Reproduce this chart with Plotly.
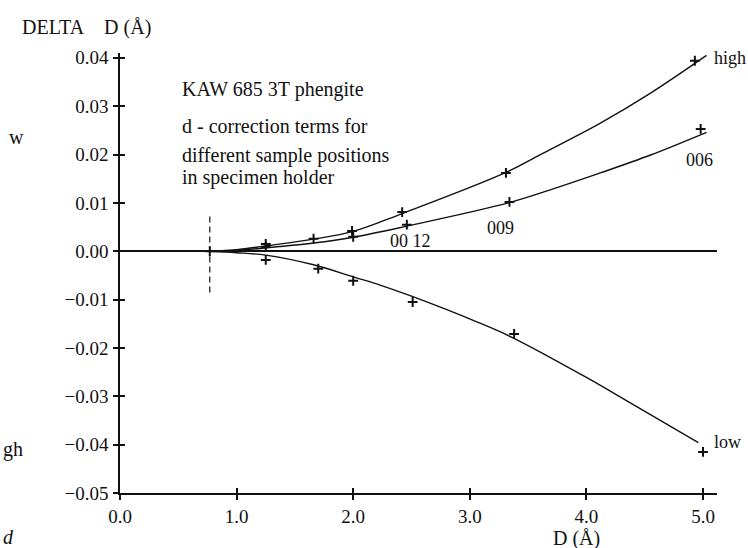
import plotly.graph_objects as go

# ---- data ----
# fitted curves
high_curve_x = [0.77, 1.0, 1.25, 1.66, 2.0, 2.42, 3.30, 3.63, 4.12, 4.55, 5.03]
high_curve_y = [0.0, 0.0003, 0.0011, 0.0025, 0.0041, 0.0078, 0.0162, 0.0203, 0.0265, 0.0327, 0.0405]

mid_curve_x = [0.77, 1.0, 1.25, 1.66, 2.0, 2.46, 3.33, 3.69, 4.12, 4.55, 5.03]
mid_curve_y = [0.0, 0.0002, 0.0007, 0.0017, 0.0029, 0.0052, 0.0100, 0.0127, 0.0162, 0.0199, 0.0246]

low_curve_x = [0.77, 1.0, 1.25, 1.66, 2.0, 2.23, 2.5, 3.06, 3.37, 4.0, 4.23, 4.96]
low_curve_y = [0.0, -0.0003, -0.0008, -0.0028, -0.0053, -0.0070, -0.0093, -0.0146, -0.0179, -0.0261, -0.0293, -0.0396]

# measured points (+)
high_pts_x = [1.25, 1.66, 1.99, 2.42, 3.31, 4.93]
high_pts_y = [0.0015, 0.0026, 0.0042, 0.0081, 0.0162, 0.0394]
mid_pts_x = [1.25, 2.0, 2.46, 3.34, 4.98]
mid_pts_y = [0.0009, 0.0030, 0.0055, 0.0102, 0.0253]
low_pts_x = [1.25, 1.70, 2.0, 2.51, 3.38, 5.0]
low_pts_y = [-0.0018, -0.0036, -0.0061, -0.0105, -0.0171, -0.0415]
origin_x = [0.77]
origin_y = [0.0]

# dashed marker line
dash_x = [0.77, 0.77]
dash_y = [0.0072, -0.0086]

# tick labels
y_ticks = [0.04, 0.03, 0.02, 0.01, 0.0, -0.01, -0.02, -0.03, -0.04, -0.05]
y_ticktext = ["0.04", "0.03", "0.02", "0.01", "0.00", "\u22120.01", "\u22120.02",
              "\u22120.03", "\u22120.04", "\u22120.05"]
x_ticks = [0, 1, 2, 3, 4, 5]
x_ticktext = ["0.0", "1.0", "2.0", "3.0", "4.0", "5.0"]

# reflection / curve labels
label_text = ["high", "006", "009", "00 12", "low"]
label_x = [5.08, 4.97, 3.26, 2.49, 5.08]
label_y = [0.0400, 0.0189, 0.0048, 0.0021, -0.0394]
label_anchor = ["left", "center", "center", "center", "left"]

X_RANGE = [0, 5.12]
Y_RANGE = [-0.05, 0.041]

FONT = "Liberation Serif"
BLACK = "#111111"

fig = go.Figure()

for cx, cy in [(high_curve_x, high_curve_y), (mid_curve_x, mid_curve_y), (low_curve_x, low_curve_y)]:
    fig.add_trace(go.Scatter(x=cx, y=cy, mode="lines",
                             line=dict(color=BLACK, width=1.4, shape="spline", smoothing=1.0),
                             hoverinfo="skip", showlegend=False, cliponaxis=False))

fig.add_trace(go.Scatter(x=dash_x, y=dash_y, mode="lines",
                         line=dict(color=BLACK, width=1.2, dash="6px,4px"),
                         hoverinfo="skip", showlegend=False))

for px, py in [(high_pts_x, high_pts_y), (mid_pts_x, mid_pts_y), (low_pts_x, low_pts_y), (origin_x, origin_y)]:
    fig.add_trace(go.Scatter(x=px, y=py, mode="markers",
                             marker=dict(symbol="cross-thin", size=7,
                                         line=dict(color=BLACK, width=2)),
                             hoverinfo="skip", showlegend=False, cliponaxis=False))

# invisible trace to keep the overlay axes (crossing tick halves) alive
fig.add_trace(go.Scatter(x=[0], y=[0], xaxis="x2", yaxis="y2", mode="markers",
                         marker=dict(opacity=0), hoverinfo="skip", showlegend=False))

axis_font = dict(family=FONT, size=19, color=BLACK)

fig.update_layout(
    width=748, height=548,
    margin=dict(l=120, r=31, t=53, b=55),
    paper_bgcolor="white", plot_bgcolor="white",
    font=dict(family=FONT, size=19, color=BLACK),
    showlegend=False,
    xaxis=dict(range=X_RANGE, tickvals=x_ticks, ticktext=x_ticktext,
               ticks="outside", ticklen=5, tickwidth=1.5, tickcolor=BLACK,
               showline=True, linecolor=BLACK, linewidth=1.5,
               showgrid=False, zeroline=False, tickfont=axis_font,
               ticklabelstandoff=0),
    yaxis=dict(range=Y_RANGE, tickvals=y_ticks, ticktext=y_ticktext,
               ticks="outside", ticklen=5, tickwidth=1.5, tickcolor=BLACK,
               showline=True, linecolor=BLACK, linewidth=1.5,
               showgrid=False, zeroline=True, zerolinecolor=BLACK, zerolinewidth=2,
               tickfont=axis_font, ticklabelstandoff=1),
    xaxis2=dict(range=X_RANGE, overlaying="x", anchor="y2", side="bottom",
                tickvals=x_ticks[1:], ticks="inside", ticklen=5, tickwidth=1.5,
                tickcolor=BLACK, showticklabels=False, showline=False,
                showgrid=False, zeroline=False),
    yaxis2=dict(range=Y_RANGE, overlaying="y", anchor="x2", side="left",
                tickvals=y_ticks, ticks="inside", ticklen=5, tickwidth=1.5,
                tickcolor=BLACK, showticklabels=False, showline=False,
                showgrid=False, zeroline=False),
)

ann = []
for t, x, y, a in zip(label_text, label_x, label_y, label_anchor):
    ann.append(dict(text=t, x=x, y=y, xref="x", yref="y", xanchor=a, yanchor="middle",
                    showarrow=False, font=dict(family=FONT, size=18, color=BLACK)))

text_items = [
    ("DELTA\u00a0\u00a0\u00a0\u00a0D (\u00c5)", -0.1675, 1.059, "left"),
    ("KAW 685 3T phengite", 0.1005, 0.918, "left"),
    ("d - correction terms for", 0.1005, 0.834, "left"),
    ("different sample positions", 0.1005, 0.768, "left"),
    ("in specimen holder", 0.1005, 0.718, "left"),
    ("D (\u00c5)", 0.765, -0.104, "center"),
    ("w", -0.189, 0.810, "left"),
    ("gh", -0.199, 0.098, "left"),
    ("<i>d</i>", -0.199, -0.100, "left"),
]
for t, x, y, a in text_items:
    ann.append(dict(text=t, x=x, y=y, xref="paper", yref="paper", xanchor=a,
                    yanchor="middle", showarrow=False,
                    font=dict(family=FONT, size=20, color=BLACK)))

fig.update_layout(annotations=ann)

# remove the browser's default 8px body margin so the figure fills the window exactly
fig.write_html("out.html", config={"displayModeBar": False},
               post_script="document.body.style.margin='0';document.body.style.overflow='hidden';")
